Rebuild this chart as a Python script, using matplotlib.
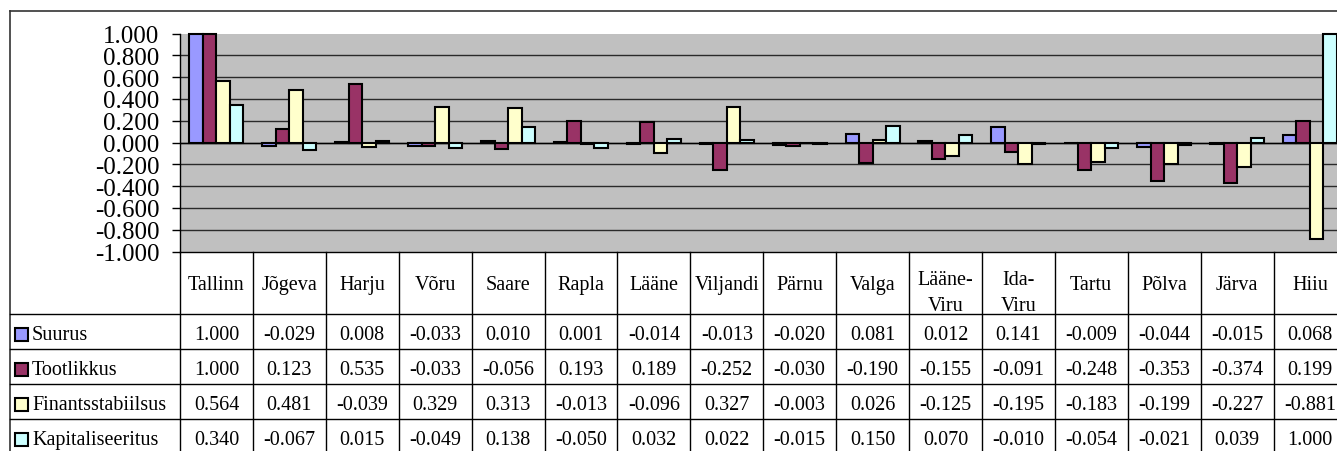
import numpy as np
import matplotlib
matplotlib.use("Agg")
import matplotlib.pyplot as plt
from matplotlib.patches import Rectangle

# ---- data ----
categories = ['Tallinn', 'Jõgeva', 'Harju', 'Võru', 'Saare', 'Rapla', 'Lääne',
              'Viljandi', 'Pärnu', 'Valga', 'Lääne-\nViru', 'Ida-\nViru',
              'Tartu', 'Põlva', 'Järva', 'Hiiu']
series_names = ['Suurus', 'Tootlikkus', 'Finantsstabiilsus', 'Kapitaliseeritus']
suurus = [1.000, -0.029, 0.008, -0.033, 0.010, 0.001, -0.014, -0.013, -0.020,
          0.081, 0.012, 0.141, -0.009, -0.044, -0.015, 0.068]
tootlikkus = [1.000, 0.123, 0.535, -0.033, -0.056, 0.193, 0.189, -0.252, -0.030,
              -0.190, -0.155, -0.091, -0.248, -0.353, -0.374, 0.199]
finantsstabiilsus = [0.564, 0.481, -0.039, 0.329, 0.313, -0.013, -0.096, 0.327,
                     -0.003, 0.026, -0.125, -0.195, -0.183, -0.199, -0.227, -0.881]
kapitaliseeritus = [0.340, -0.067, 0.015, -0.049, 0.138, -0.050, 0.032, 0.022,
                    -0.015, 0.150, 0.070, -0.010, -0.054, -0.021, 0.039, 1.000]
y_ticks = [-1.0, -0.8, -0.6, -0.4, -0.2, 0.0, 0.2, 0.4, 0.6, 0.8, 1.0]

series = [suurus, tootlikkus, finantsstabiilsus, kapitaliseeritus]
colors = ['#9999FF', '#993366', '#FFFFCC', '#CCFFFF']

# ---- layout (pixels) ----
W, H = 1337, 452
FONT = 'Liberation Serif'
plot_left = 180.0
col_w = 72.9
n = len(categories)
plot_right = plot_left + n * col_w
plot_top = 34.5
plot_bottom = 252.5
frame_left = 10.0
frame_top = 12.0
row_edges = [plot_bottom, 315.0, 350.0, 385.0, 420.0, 455.0]

fig = plt.figure(figsize=(W / 100, H / 100), dpi=100)
fig.patch.set_facecolor('white')

ax = fig.add_axes([plot_left / W, (H - plot_bottom) / H,
                   (plot_right - plot_left) / W, (plot_bottom - plot_top) / H])
ax.set_facecolor('#C0C0C0')
ax.set_xlim(0, n)
ax.set_ylim(-1, 1)

bw = 1 / 5.4
x = np.arange(n) + 0.5
for j, (vals, c) in enumerate(zip(series, colors)):
    ax.bar(x + (j - 1.5) * bw, vals, width=bw, color=c, edgecolor='black',
           linewidth=1.5, zorder=3, clip_on=False)

ax.set_yticks(y_ticks)
ax.set_yticklabels([f"{v:.3f}" for v in y_ticks], fontfamily=FONT, fontsize=18)
for v in y_ticks[1:-1]:
    ax.axhline(v, color='#2a2a2a', lw=1, zorder=1)
ax.axhline(0, color='black', lw=1, zorder=2)
ax.set_xticks([])
ax.tick_params(axis='y', direction='out', length=5.8, width=1, pad=9, colors='black')
for s in ['top', 'right']:
    ax.spines[s].set_visible(False)
for s in ['left', 'bottom']:
    ax.spines[s].set_color('black')
    ax.spines[s].set_linewidth(1)

# ---- overlay for table & frame ----
ov = fig.add_axes([0, 0, 1, 1], facecolor='none')
ov.set_xlim(0, W)
ov.set_ylim(H, 0)
ov.axis('off')

# outer frame
ov.plot([frame_left, W + 5], [frame_top, frame_top], color='#333333', lw=1.2)
ov.plot([frame_left, frame_left], [frame_top, H + 5], color='#333333', lw=1.2)

# table grid
for yv in row_edges[1:-1]:
    ov.plot([frame_left, plot_right], [yv, yv], color='black', lw=1)
for i in range(n + 1):
    xv = plot_left + i * col_w
    ov.plot([xv, xv], [plot_bottom, row_edges[-1]], color='black', lw=1)

fs = 14.5
# header
for i, cat in enumerate(categories):
    cx = plot_left + (i + 0.5) * col_w
    lines = cat.split('\n')
    if len(lines) == 1:
        ov.text(cx, 290, lines[0], ha='center', va='baseline',
                fontfamily=FONT, fontsize=fs)
    else:
        for k, ln in enumerate(lines):
            ov.text(cx, 285 + k * 26, ln, ha='center', va='baseline',
                    fontfamily=FONT, fontsize=fs)

# rows
for r, (name, vals, c) in enumerate(zip(series_names, series, colors)):
    y0, y1 = row_edges[r + 1], row_edges[r + 2]
    cy = (y0 + y1) / 2
    base = cy + 7.5
    ov.add_patch(Rectangle((15, cy - 3.5), 13, 12.5, facecolor=c,
                           edgecolor='black', lw=1.5))
    ov.text(32, base, name, ha='left', va='baseline', fontfamily=FONT, fontsize=fs)
    for i, v in enumerate(vals):
        cx = plot_left + (i + 0.5) * col_w
        ov.text(cx, base, f"{v:.3f}", ha='center', va='baseline',
                fontfamily=FONT, fontsize=fs)

fig.savefig('out.png', dpi=100)
